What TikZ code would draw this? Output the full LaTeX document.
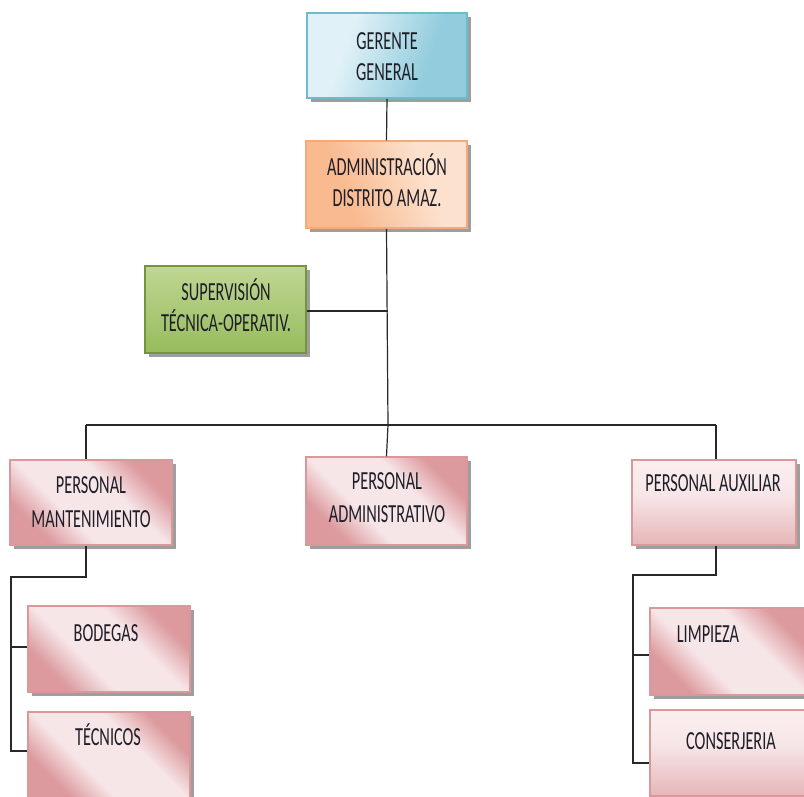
\documentclass[tikz,border=0pt]{standalone}
\usepackage{fontspec}
\usepackage{graphicx}
\newfontfamily\carlito{Carlito}
\usetikzlibrary{shadows}
\definecolor{blueB}{RGB}{112,186,206}
\definecolor{blueL}{RGB}{224,241,247}
\definecolor{blueD}{RGB}{146,204,221}
\definecolor{orB}{RGB}{244,170,122}
\definecolor{orL}{RGB}{252,226,206}
\definecolor{orD}{RGB}{249,186,144}
\definecolor{grB}{RGB}{118,148,62}
\definecolor{grL}{RGB}{192,214,148}
\definecolor{grD}{RGB}{150,188,92}
\definecolor{pkB}{RGB}{218,152,154}
\definecolor{pkL}{RGB}{247,230,232}
\definecolor{pkD}{RGB}{220,154,158}
\definecolor{pkT}{RGB}{251,238,239}
\definecolor{pkM}{RGB}{230,182,184}
\definecolor{txtc}{RGB}{30,30,40}
\definecolor{linec}{RGB}{40,40,40}
\pgfdeclarehorizontalshading{pinkband}{100bp}{color(0bp)=(pkD); color(27bp)=(pkD); color(40bp)=(pkL); color(60bp)=(pkL); color(73bp)=(pkD); color(100bp)=(pkD)}
\pgfdeclareverticalshading{pinkvert}{100bp}{color(0bp)=(pkM); color(25bp)=(pkM); color(55bp)=(pkL); color(75bp)=(pkT); color(100bp)=(pkT)}
\pgfdeclarehorizontalshading{blueband}{100bp}{color(0bp)=(blueL); color(35bp)=(blueL); color(65bp)=(blueD); color(100bp)=(blueD)}
\pgfdeclarehorizontalshading{orband}{100bp}{color(0bp)=(orD); color(35bp)=(orD); color(65bp)=(orL); color(100bp)=(orL)}
\tikzset{
  boxbase/.style={rectangle, line width=1.5pt, inner sep=0pt,
    drop shadow={shadow xshift=4pt, shadow yshift=-4pt, fill=black!38, opacity=1}},
  bluebox/.style={boxbase, draw=blueB, shading=blueband, shading angle=-20},
  orbox/.style={boxbase, draw=orB, shading=orband, shading angle=20},
  grbox/.style={boxbase, draw=grB, top color=grL, bottom color=grD, shading angle=0},
  pkbox/.style={boxbase, draw=pkB, shading=pinkband, shading angle=45},
  pkvbox/.style={boxbase, draw=pkB, shading=pinkvert},
  txt/.style={font=\carlito\fontsize{16.3}{19.4}\selectfont, text=txtc, inner sep=0pt, anchor=center},
  conn/.style={draw=linec, line width=1.2pt},
}
\newcommand\stx[1]{\scalebox{1}[1.6]{\begin{tabular}{@{}c@{}}#1\end{tabular}}}
\begin{document}
\begin{tikzpicture}[x=1pt,y=-1pt]
\useasboundingbox (0,0) rectangle (804,796);
\clip (0,0) rectangle (804,796);
\fill[white] (0,0) rectangle (804,796);
% boxes
\node[bluebox, minimum width=160pt, minimum height=85pt] (g) at (387,55.5) {};
\node[orbox, minimum width=161pt, minimum height=87pt] (a) at (386.5,184.5) {};
\node[grbox, minimum width=161pt, minimum height=87pt] (s) at (225.5,309.5) {};
\node[pkbox, minimum width=162pt, minimum height=85pt] (pm) at (91,502.5) {};
\node[pkbox, minimum width=161pt, minimum height=88pt] (pa) at (386.5,501) {};
\node[pkvbox, minimum width=164pt, minimum height=85pt] (px) at (714,502.5) {};
\node[pkbox, minimum width=162pt, minimum height=86pt] (b) at (109,649) {};
\node[pkbox, minimum width=162pt, minimum height=86pt] (t) at (109,755) {};
\node[pkbox, minimum width=160pt, minimum height=87pt] (l) at (730,651.5) {};
\node[pkvbox, minimum width=160pt, minimum height=86pt] (c) at (730,753) {};
% texts
\node[txt] (gt) at (387,59) {\stx{GERENTE\\GENERAL}};
\node[txt] (at) at (387,185) {\stx{ADMINISTRACIÓN\\DISTRITO AMAZ.}};
\node[txt] (st) at (226,310) {\stx{SUPERVISIÓN\\TÉCNICA-OPERATIV.}};
\node[txt] (pmt) at (91,504) {\stx{PERSONAL\\[1.6pt]MANTENIMIENTO}};
\node[txt] (pat) at (387,500) {\stx{PERSONAL\\[1.4pt]ADMINISTRATIVO}};
\node[txt] (pxt) at (713,485) {\stx{PERSONAL AUXILIAR}};
\node[txt] (bt) at (106,635) {\stx{BODEGAS}};
\node[txt] (tt) at (108,739) {\stx{TÉCNICOS}};
\node[txt] (lt) at (708,636) {\stx{LIMPIEZA}};
\node[txt] (ct) at (731,743) {\stx{CONSERJERIA}};
% connector points
\coordinate (j1) at (388,311);
\coordinate (j2) at (388,425);
\coordinate (hl) at (86,425);
\coordinate (hr) at (716,425);
\coordinate (m1) at (86,577);
\coordinate (m2) at (11,577);
\coordinate (m3) at (11,647);
\coordinate (m4) at (11,751);
\coordinate (x1) at (716,575);
\coordinate (x2) at (633,575);
\coordinate (x3) at (633,655);
\coordinate (x4) at (633,763);
% connectors
\path[conn] (g.south) -- (a.north);
\path[conn] (a.south) -- (j2);
\path[conn] (s.east |- j1) -- (j1);
\path[conn] (hl) -- (hr);
\path[conn] (hl) -- (hl |- pm.north);
\path[conn] (j2) -- (pa.north);
\path[conn] (hr) -- (hr |- px.north);
\path[conn] (m1 |- pm.south) -- (m1) -- (m2) -- (m4) -- (m4 -| t.west);
\path[conn] (m3) -- (m3 -| b.west);
\path[conn] (x1 |- px.south) -- (x1) -- (x2) -- (x4) -- (x4 -| c.west);
\path[conn] (x3) -- (x3 -| l.west);
\end{tikzpicture}
\end{document}
